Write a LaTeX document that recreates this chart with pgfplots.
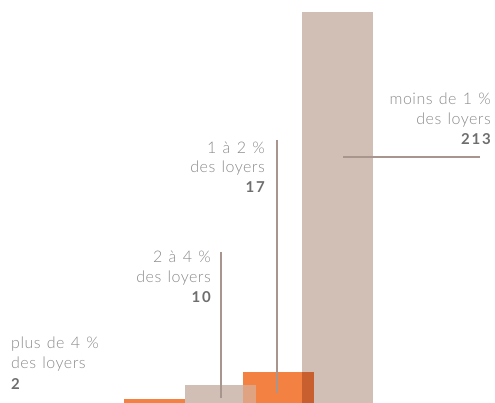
\documentclass[border=0pt]{standalone}
\usepackage{fontspec}
\setmainfont{Lato Light}[LetterSpace=3, WordSpace=1.3]
\newfontfamily\numfont{Lato}[LetterSpace=12]
\usepackage{pgfplots}
\pgfplotsset{compat=1.18}
\definecolor{beige}{HTML}{D1BFB5}
\definecolor{orng}{HTML}{F38142}
\definecolor{lead}{HTML}{A8968E}
\definecolor{txt}{HTML}{8A8A8A}
\definecolor{num}{HTML}{6E6E6E}
\begin{document}
\begin{tikzpicture}[x=1pt,y=1pt]
\begin{axis}[scale only axis, width=495pt, height=403pt,
  xmin=0, xmax=495, ymin=0, ymax=219.5, hide axis, clip=false]
\addplot[ybar, bar width=71, bar shift=0pt, fill=orng, draw=none] coordinates {(159.5,2)};
\addplot[ybar, bar width=71, bar shift=0pt, fill=beige, draw=none] coordinates {(220,10)};
\addplot[ybar, bar width=71, bar shift=0pt, fill=orng, draw=none] coordinates {(278.5,17)};
\addplot[ybar, bar width=71, bar shift=0pt, fill=beige, fill opacity=0.55, draw=none] coordinates {(220,10)};
\addplot[ybar, bar width=71, bar shift=0pt, fill=beige, draw=none, blend mode=multiply] coordinates {(337,213)};
\draw[lead, line width=1.8pt] (axis cs:221,82.3) -- (axis cs:221,2.7);
\draw[lead, line width=1.8pt] (axis cs:277,143.3) -- (axis cs:277,5.4);
\draw[lead, line width=1.8pt] (axis cs:343,134.0) -- (axis cs:480,134.0);
\path[draw=none] (axis cs:0,0) rectangle (axis cs:495,219.5);
\end{axis}
\begin{scope}[every node/.style={inner sep=0pt, text=txt, font=\fontsize{16}{18}\selectfont}]
\node[anchor=base west] at (11,54) {plus de 4 \%};
\node[anchor=base west] at (11,34) {des loyers};
\node[anchor=base west, text=num] at (11,13) {\fontsize{15}{17}\selectfont\numfont\bfseries 2};
\node[anchor=base east] at (211,140) {2 à 4 \%};
\node[anchor=base east] at (211,120) {des loyers};
\node[anchor=base east, text=num] at (211,100) {\fontsize{15}{17}\selectfont\numfont\bfseries 10};
\node[anchor=base east] at (265,249) {1 à 2 \%};
\node[anchor=base east] at (265,230) {des loyers};
\node[anchor=base east, text=num] at (265,210) {\fontsize{15}{17}\selectfont\numfont\bfseries 17};
\node[anchor=base east] at (491,298) {moins de 1 \%};
\node[anchor=base east] at (491,278) {des loyers};
\node[anchor=base east, text=num] at (491,258) {\fontsize{15}{17}\selectfont\numfont\bfseries 213};
\end{scope}
\end{tikzpicture}
\end{document}
